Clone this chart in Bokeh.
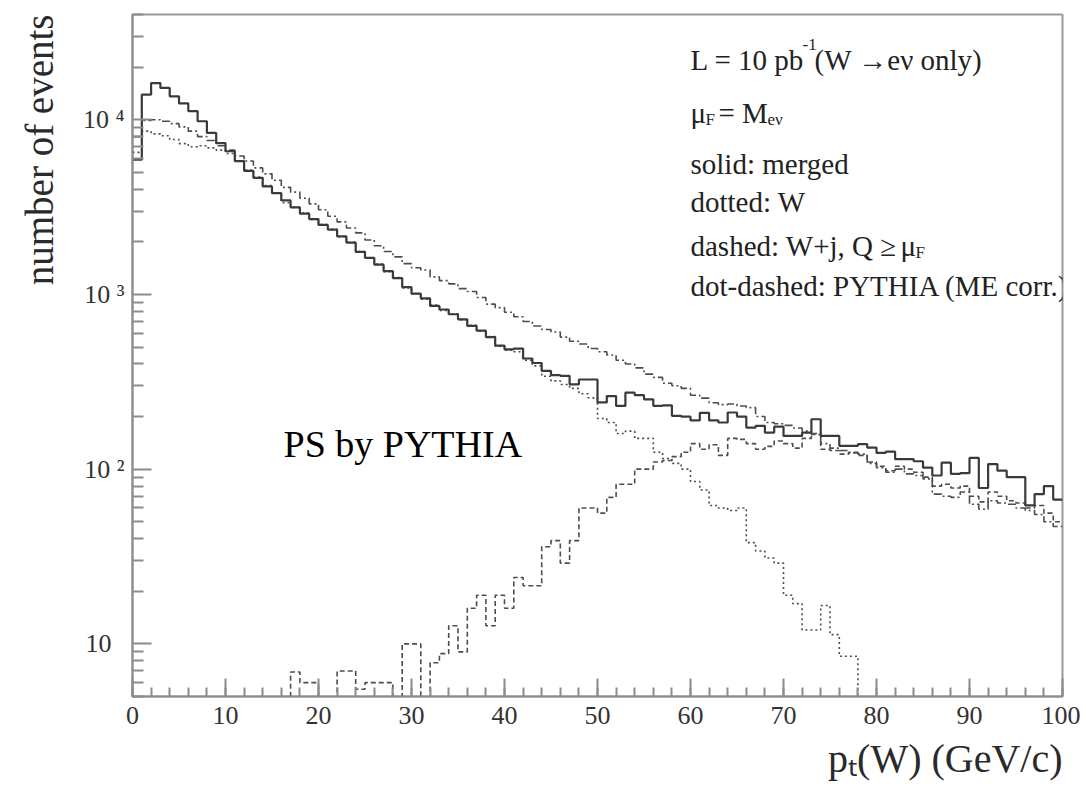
import math
from bokeh.plotting import figure
from bokeh.models import Range1d, FixedTicker, SingleIntervalTicker, Label, Title
from bokeh.embed import file_html
from bokeh.resources import INLINE

# ---------------- data (1 GeV bins, 0..100 GeV) ----------------
bin_edges = list(range(0, 101))

merged = [5900, 13900, 16200, 15200, 13600, 12400, 11200, 9800, 8400, 7350,
          6600, 5800, 5100, 4650, 4150, 3800, 3450, 3150, 2900, 2700,
          2500, 2350, 2150, 1980, 1750, 1620, 1480, 1360, 1240, 1100,
          1010, 950, 860, 820, 770, 720, 660, 620, 570, 510,
          485, 490, 430, 405, 365, 345, 342, 306, 326, 326,
          241, 262, 230, 274, 265, 251, 230, 232, 202, 200,
          190, 210, 190, 185, 211, 200, 173, 177, 162, 175,
          155, 155, 162, 193, 155, 155, 136, 136, 139, 133,
          124, 126, 114, 114, 111, 102, 92, 109, 94, 95,
          116, 78, 107, 98, 90, 90, 62, 72, 80, 67]

w_only = [6500, 8600, 8300, 8100, 7700, 7300, 7000, 7100, 6900, 6700,
          6400, 5800, 5150, 4700, 4200, 3820, 3350, 3150, 2920, 2690,
          2510, 2360, 2140, 1990, 1760, 1610, 1490, 1350, 1250, 1090,
          1010, 940, 870, 810, 775, 715, 665, 615, 575, 505,
          480, 470, 420, 390, 340, 320, 305, 290, 270, 256,
          195, 185, 160, 165, 150, 150, 125, 115, 108, 100,
          85, 76, 62, 60, 58, 60, 38, 34, 31, 29,
          19, 17, 12, 12, 16.6, 11.3, 8.5, 8.5, 0, 0,
          0, 0, 0, 0, 0, 0, 0, 0, 0, 0,
          0, 0, 0, 0, 0, 0, 0, 0, 0, 0]

w_plus_jet = [0, 0, 0, 0, 0, 0, 0, 0, 0, 0,
              0, 0, 0, 0, 0, 0, 0, 6.9, 6, 6,
              0, 0, 7, 7, 5.5, 6, 6, 6, 0, 10,
              10, 0, 7.8, 8.8, 12.7, 9, 16, 19, 12.7, 19,
              16, 24, 21.5, 21.5, 36, 39, 29, 39, 60, 60,
              56, 69, 82, 82, 100, 100, 110, 112, 118, 125,
              140, 130, 138, 120, 150, 148, 140, 130, 135, 145,
              140, 132, 150, 160, 130, 128, 122, 125, 120, 110,
              104, 98, 104, 100, 96, 90, 80, 82, 78, 80,
              70, 65, 74, 70, 66, 64, 60, 62, 56, 50]

pythia_me = [8000, 9900, 10000, 9800, 9500, 9100, 8600, 8000, 7600, 7100,
             6700, 6200, 5800, 5300, 4900, 4500, 4100, 3850, 3550, 3300,
             3050, 2800, 2600, 2400, 2250, 2050, 1900, 1760, 1640, 1500,
             1420, 1380, 1260, 1200, 1150, 1080, 1040, 960, 880, 840,
             790, 745, 700, 660, 630, 610, 570, 540, 520, 490,
             470, 450, 420, 400, 380, 350, 335, 310, 300, 290,
             265, 255, 240, 234, 236, 230, 225, 200, 185, 182,
             178, 172, 165, 158, 140, 132, 128, 124, 122, 108,
             102, 96, 100, 94, 92, 88, 72, 70, 69, 74,
             63, 59, 66, 64, 63, 60, 58, 55, 50, 47]

y_major = [10, 100, 1000, 10000]
y_major_labels = ["10\u2007", "10 \u00b2", "10 \u00b3", "10 \u2074"]

YMIN, YMAX = 5, 40000
FONT = "Liberation Serif"

p = figure(width=1080, height=798, output_backend="svg", toolbar_location=None,
           x_range=Range1d(0, 100), y_range=Range1d(YMIN, YMAX), y_axis_type="log",
           min_border_left=131, min_border_right=18, min_border_top=14, min_border_bottom=102)
p.background_fill_color = "white"
p.border_fill_color = "white"
p.xgrid.visible = False
p.ygrid.visible = False
p.outline_line_color = "#9a9a9a"
p.outline_line_width = 2

AX = "#8c8c8c"
for ax in (p.xaxis[0], p.yaxis[0]):
    ax.axis_line_color = AX
    ax.axis_line_width = 2
    ax.major_tick_line_color = AX
    ax.minor_tick_line_color = AX
    ax.major_tick_line_width = 2
    ax.minor_tick_line_width = 2
    ax.major_tick_out = 0
    ax.minor_tick_out = 0
    ax.major_label_text_font = FONT
    ax.major_label_text_font_size = "26px"
    ax.major_label_text_color = "#333333"

p.xaxis.ticker = SingleIntervalTicker(interval=10, num_minor_ticks=5)
p.xaxis.major_tick_in = 18
p.xaxis.minor_tick_in = 9
p.xaxis.major_label_standoff = 10

minor = []
for dec in (1, 10, 100, 1000, 10000):
    for k in range(2, 10):
        v = k * dec
        if YMIN <= v <= YMAX and v not in y_major:
            minor.append(v)
p.yaxis.ticker = FixedTicker(ticks=y_major, minor_ticks=minor)
p.yaxis.major_label_overrides = {v: s for v, s in zip(y_major, y_major_labels)}
p.yaxis.major_tick_in = 19
p.yaxis.minor_tick_in = 11
p.yaxis.major_label_standoff = 8

# axis titles (ROOT style: aligned to the end of the axis)
p.add_layout(Title(text="p\u209c(W) (GeV/c)", align="right", text_font=FONT,
                   text_font_size="40px", text_font_style="normal",
                   text_color="#2a2a2a", standoff=14), "below")
p.add_layout(Title(text="number of events", align="right", text_font=FONT,
                   text_font_size="39px", text_font_style="normal",
                   text_color="#2a2a2a", standoff=34, vertical_align="top"), "left")


def step_xy(vals):
    ys = [v if v > 0 else 1 for v in vals]
    return bin_edges, ys + [ys[-1]]

x, y = step_xy(w_only)
p.step(x, y, mode="after", line_color="#4d4d4d", line_width=1.6, line_dash="2 3")
x, y = step_xy(w_plus_jet)
p.step(x, y, mode="after", line_color="#4d4d4d", line_width=1.6, line_dash="5 3")
x, y = step_xy(pythia_me)
p.step(x, y, mode="after", line_color="#4d4d4d", line_width=1.6, line_dash="8 3 2 3")
x, y = step_xy(merged)
p.step(x, y, mode="after", line_color="#3a3a3a", line_width=2.2)

# ---------------- texts inside the frame, placed in image pixels ----------
FX, FY = 131.0, 24.0


def put(text, X, Y, size, color="#222222", align="left", baseline="alphabetic"):
    p.add_layout(Label(x=0, y=YMAX, x_offset=X - FX, y_offset=-(Y - FY), text=text,
                       text_font=FONT, text_font_size=f"{size}px", text_color=color,
                       text_align=align, text_baseline=baseline))

LX = 689
put("L = 10 pb", LX, 69, 29)
put("-1", 801, 54, 17)
put("(W \u2192e\u03bd only)", 813, 69, 29)
put("\u03bc", LX, 122, 29)
put("F", 704, 129, 17)
put("= M", 717, 122, 29)
put("e\u03bd", 766, 129, 17)
put("solid: merged", LX, 173, 29)
put("dotted: W", LX, 211, 29)
put("dashed: W+j, Q \u2265", LX, 255, 29)
put("\u03bc", 899, 255, 29)
put("F", 914, 262, 17)
put("dot-dashed: PYTHIA (ME corr.)", LX, 295, 29)

put("PS by PYTHIA", 282, 453, 38, color="#000000")

open("out.html", "w").write(file_html(p, INLINE))
